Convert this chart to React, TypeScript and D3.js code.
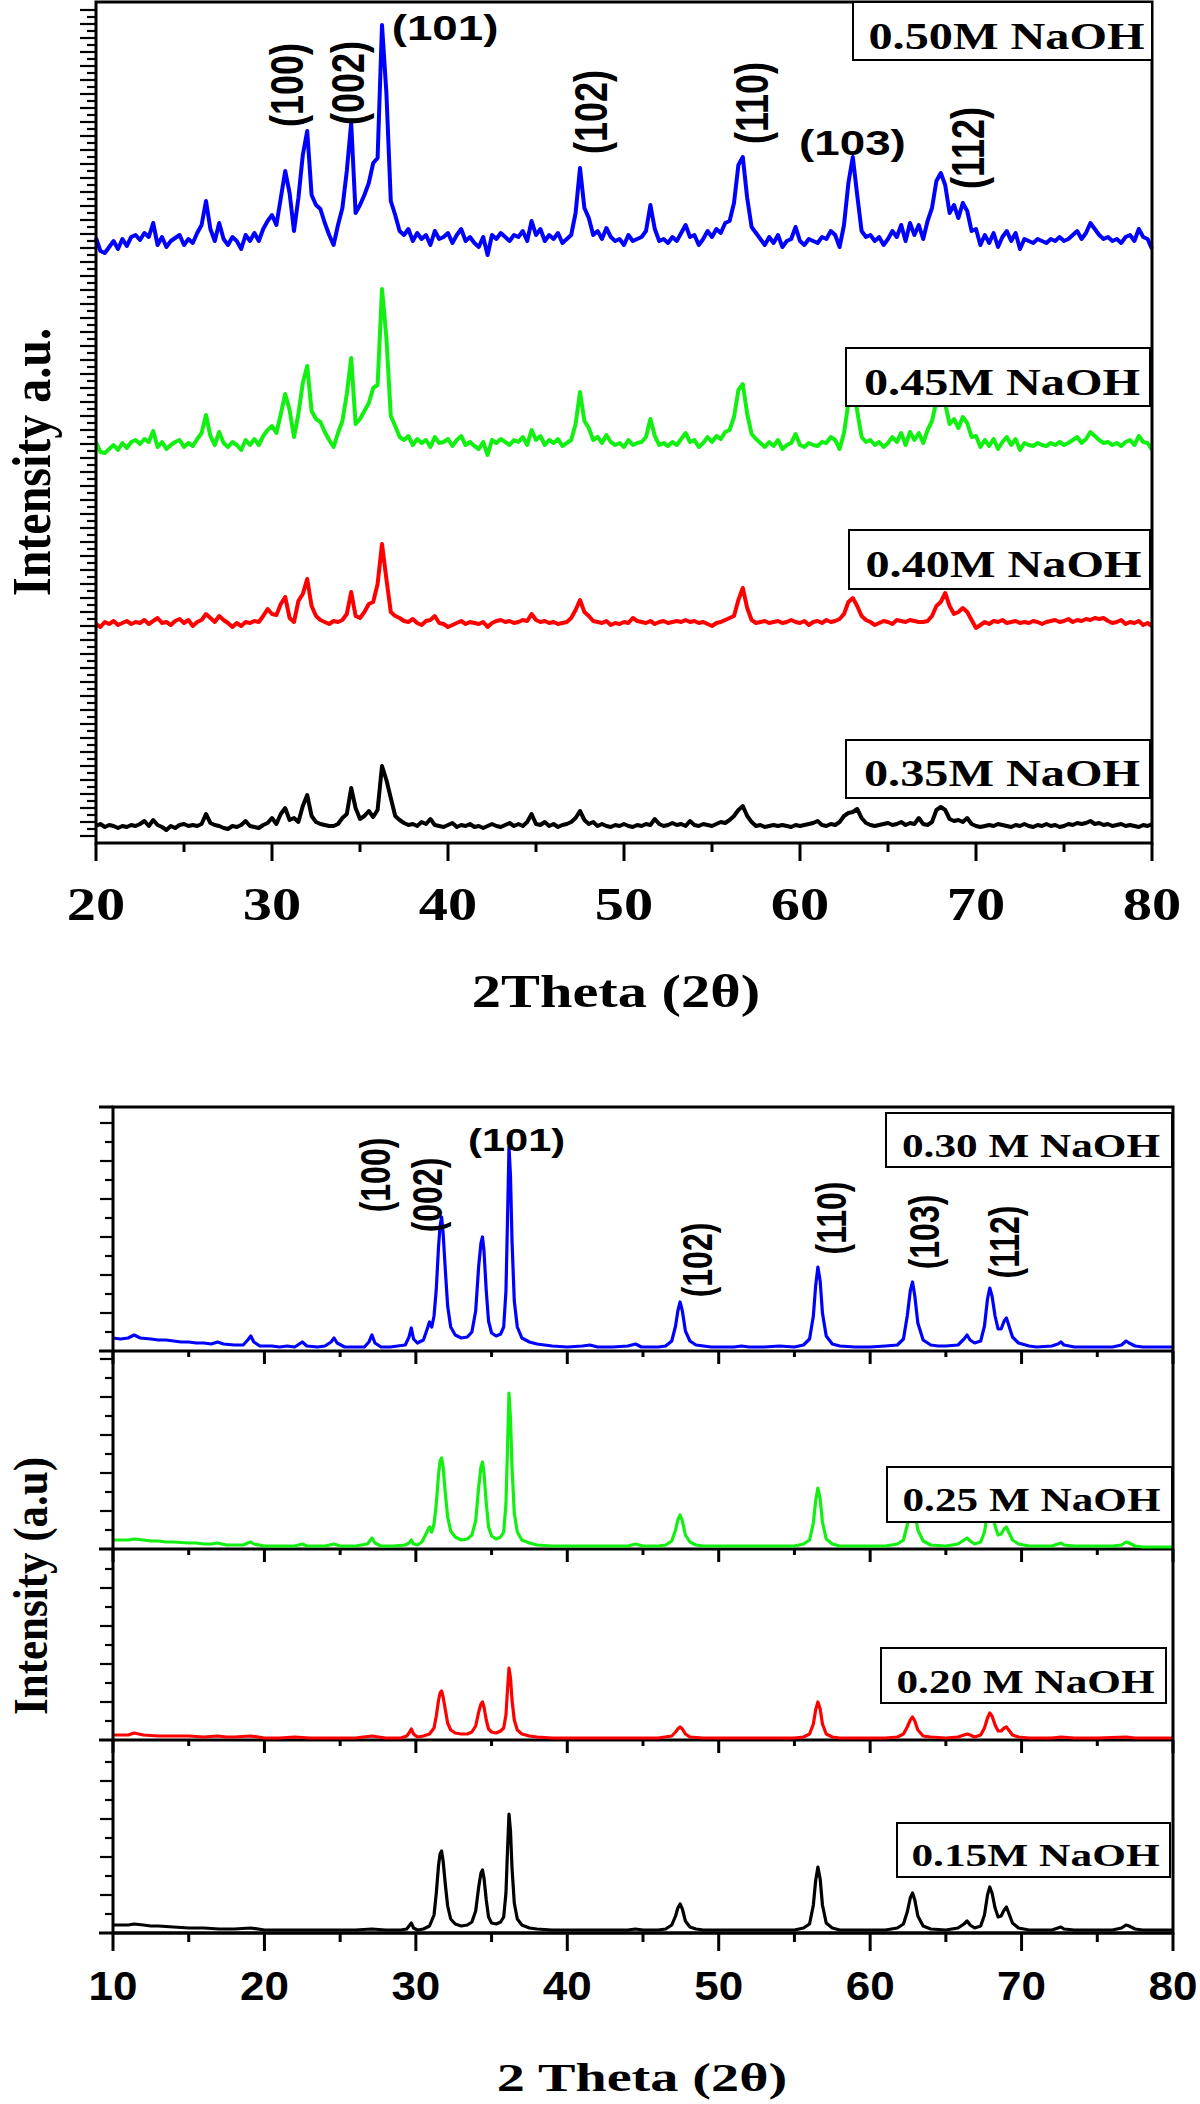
import React, { useEffect, useRef } from 'react'
import * as d3 from 'd3'

// ---------- top figure: 2theta 20..80, one reading every 0.25 deg ----------
const TOP_START = 20
const TOP_STEP = 0.25
const TOP_NAMES = ['0.50M NaOH', '0.45M NaOH', '0.40M NaOH', '0.35M NaOH']
const TOP_COLORS = ['#0000ff', '#12f012', '#ff0000', '#000000']
const TOP_OFFSETS = [600, 397, 219, 15]

const TOP_050 = [
  5, -8, -10, -4, 2, -6, 4, -3, 6, 8, 3, 10, 6, 20, -2, 6,
  -4, 2, 5, 8, -2, 4, 0, 10, 18, 42, 14, 2, 20, 4, -2, 6,
  2, -6, 8, 2, 10, 2, 14, 22, 28, 18, 45, 72, 50, 12, 45, 88,
  112, 48, 38, 34, 20, 8, -2, 18, 35, 72, 120, 30, 38, 48, 60, 80,
  85, 218, 150, 42, 28, 12, 8, 14, 2, 10, 4, 8, -2, 12, 4, 6,
  10, 0, 8, 14, 2, 6, 0, -4, 6, -12, 8, 4, 10, 6, 2, 8,
  6, 12, 2, 22, 8, 14, 2, 8, 4, 10, 0, 4, 8, 30, 75, 35,
  25, 8, 12, 4, 15, 6, 2, 4, -2, 8, 2, 4, 6, 12, 38, 14,
  2, 4, 0, 6, 2, 10, 18, 6, 8, -2, 4, 12, 6, 14, 10, 20,
  22, 40, 78, 86, 45, 16, 10, 4, -2, 6, 0, 8, -4, 2, 4, 16,
  2, -2, 4, 2, 0, 6, 4, 12, 8, -4, 18, 60, 86, 48, 12, 6,
  8, 2, 6, -2, 4, 12, 6, 18, 2, 20, 8, 18, 4, 22, 35, 62,
  70, 58, 30, 38, 25, 40, 32, 12, 14, -2, 8, 0, 10, -4, 6, 12,
  2, 10, -6, 4, 2, 0, 4, 2, 0, 4, 2, 6, 2, 4, 8, 12,
  4, 10, 20, 14, 8, 4, 6, 2, 4, 0, 6, 8, 2, 14, 6, 4,
  -6,
]
const TOP_045 = [
  4, -6, -7, -3, 1, -4, 3, -2, 4, 6, 2, 7, 4, 15, -1, 4,
  -3, 1, 4, 6, -1, 3, 0, 7, 13, 31, 10, 1, 14, 3, -1, 4,
  1, -4, 6, 1, 7, 1, 10, 16, 20, 13, 32, 52, 36, 9, 32, 63,
  80, 35, 27, 24, 14, 6, -1, 13, 25, 52, 88, 22, 27, 35, 43, 58,
  61, 157, 108, 30, 20, 9, 6, 10, 1, 7, 3, 6, -1, 9, 3, 4,
  7, 0, 6, 10, 1, 4, 0, -3, 4, -9, 6, 3, 7, 4, 1, 6,
  4, 9, 1, 16, 6, 10, 1, 6, 3, 7, 0, 3, 6, 22, 54, 25,
  18, 6, 9, 3, 11, 4, 1, 3, -1, 6, 1, 3, 4, 9, 27, 10,
  1, 3, 0, 4, 1, 7, 13, 4, 6, -1, 3, 9, 4, 10, 7, 14,
  16, 29, 56, 62, 32, 12, 7, 3, -1, 4, 0, 6, -3, 1, 3, 12,
  1, -1, 3, 1, 0, 4, 3, 9, 6, -3, 13, 43, 62, 35, 9, 4,
  6, 1, 4, -1, 3, 9, 4, 13, 1, 14, 6, 13, 3, 16, 25, 45,
  50, 42, 22, 27, 18, 29, 23, 9, 10, -1, 6, 0, 7, -3, 4, 9,
  1, 7, -4, 3, 1, 0, 3, 1, 0, 3, 1, 4, 1, 3, 6, 9,
  3, 7, 14, 10, 6, 3, 4, 1, 3, 0, 4, 6, 1, 10, 4, 3,
  -4,
]
const TOP_040 = [
  0, -3, 2, 0, 3, -1, 1, 3, 0, 2, 1, 4, 0, 3, 6, 1,
  2, -1, 3, 5, 1, 4, -2, 2, 4, 10, 6, 2, 8, 4, 1, -3,
  1, -2, 2, 1, 3, 2, 8, 15, 10, 9, 20, 27, 6, 2, 23, 30,
  45, 18, 8, 4, 2, 0, 3, 2, 4, 10, 32, 8, 6, 12, 20, 22,
  40, 80, 45, 12, 8, 6, 3, 2, 5, 1, -1, 3, 4, 8, 1, 0,
  -3, -1, 1, 3, 0, 2, 1, 0, 2, -3, 1, 3, 4, 2, 3, 1,
  2, 4, 3, 10, 4, 2, 3, 1, 2, 0, 1, 2, 6, 14, 24, 12,
  8, 3, 2, 1, 3, -1, 1, 0, 2, 1, 6, 3, 2, 1, 3, 0,
  2, 3, 1, 2, 3, 2, 4, 2, 3, 1, 2, 0, -2, 1, 2, 4,
  6, 8, 24, 36, 16, 4, 1, 2, 3, 1, 2, 3, 1, 2, 4, 2,
  1, 3, -1, 2, 3, 1, 4, 2, 3, 5, 10, 22, 26, 18, 8, 4,
  2, -1, 1, 3, 2, 0, 4, 3, 2, 4, 3, 2, 2, 3, 8, 18,
  22, 31, 18, 10, 12, 16, 12, 4, -4, -1, 2, 0, 3, 2, 4, 1,
  2, 3, 1, 2, 1, 3, 2, 0, 2, 3, 4, 2, 3, 5, 2, 4,
  3, 5, 4, 6, 5, 6, 3, 1, 2, 4, 0, 2, 1, 3, -1, 1,
  -2,
]
const TOP_035 = [
  2, 4, 1, 3, 2, 0, 2, 1, 3, 2, 4, 7, 2, 8, 3, 1,
  -2, 2, 0, 3, 4, 2, 3, 2, 4, 14, 5, 3, 2, 0, -1, 2,
  1, 3, 7, 2, 1, 0, 3, 5, 10, 4, 14, 20, 8, 10, 6, 22,
  33, 12, 6, 4, 3, 2, 2, 4, 10, 14, 40, 20, 9, 12, 17, 11,
  18, 62, 48, 30, 12, 8, 5, 3, 4, 2, 6, 4, 9, 3, 2, 1,
  3, 5, 1, 3, 2, 4, 1, 2, 0, 2, 4, 2, 1, 3, 5, 2,
  4, 2, 6, 14, 4, 3, 6, 2, 4, 1, 3, 4, 6, 10, 17, 8,
  4, 6, 2, 4, 2, 1, 3, 2, 4, 2, 1, 3, 2, 4, 3, 9,
  4, 2, 3, 5, 3, 4, 2, 7, 3, 2, 4, 3, 2, 4, 6, 5,
  8, 12, 18, 22, 12, 6, 2, 3, 1, 2, 3, 2, 3, 2, 1, 3,
  2, 3, 4, 5, 7, 3, 2, 4, 3, 6, 12, 15, 16, 19, 10, 5,
  3, 2, 3, 4, 5, 3, 4, 6, 3, 5, 4, 10, 4, 3, 6, 18,
  21, 18, 9, 7, 8, 6, 10, 4, 2, 1, 2, 3, 2, 4, 3, 2,
  1, 3, 2, 4, 2, 1, 3, 2, 4, 2, 3, 1, 2, 4, 3, 5,
  4, 5, 7, 4, 5, 3, 4, 2, 3, 4, 2, 3, 2, 1, 3, 2,
  4,
]
const TOP_SERIES = [TOP_050, TOP_045, TOP_040, TOP_035]

const TOP_HKL = ['(100)', '(002)', '(101)', '(102)', '(110)', '(103)', '(112)']
const TOP_X_TICKS = [20, 30, 40, 50, 60, 70, 80]

// ---------- bottom figure: [2theta, intensity above baseline] ----------
const BOT_NAMES = ['0.30 M NaOH', '0.25 M NaOH', '0.20 M NaOH', '0.15M NaOH']
const BOT_COLORS = ['#0000ff', '#12f012', '#ff0000', '#000000']

const BOT_030 = [
  [10, 13], [10.5, 12], [11, 13], [11.4, 16], [11.8, 13], [12.5, 12], [13, 11], [13.5, 11], [14, 10], [14.5, 9],
  [15, 9], [15.5, 8], [16, 8], [16.5, 7], [16.9, 9], [17.3, 7], [18, 6], [18.6, 6], [18.9, 11], [19.1, 15],
  [19.3, 9], [19.7, 5], [20.5, 5], [21, 4], [21.5, 5], [22, 4], [22.5, 9], [22.8, 5], [23.5, 4], [24, 5],
  [24.4, 9], [24.6, 13], [24.8, 8], [25.3, 4], [26, 4], [26.6, 4], [26.9, 9], [27.1, 16], [27.3, 8], [27.7, 4],
  [28.3, 4], [28.8, 5], [29.3, 6], [29.55, 14], [29.7, 23], [29.85, 12], [30.1, 8], [30.5, 11], [30.75, 22], [30.9, 29],
  [31.05, 24], [31.2, 35], [31.35, 62], [31.5, 105], [31.6, 125], [31.7, 134], [31.8, 118], [31.95, 80], [32.1, 45], [32.3, 24],
  [32.6, 16], [33.0, 13], [33.4, 14], [33.7, 19], [33.95, 40], [34.15, 85], [34.3, 108], [34.4, 114], [34.5, 100], [34.65, 60],
  [34.8, 30], [35.0, 18], [35.3, 15], [35.6, 17], [35.8, 24], [35.95, 60], [36.05, 130], [36.15, 204], [36.25, 175], [36.35, 110],
  [36.5, 50], [36.7, 24], [37.0, 13], [37.5, 9], [38, 7], [38.5, 6], [39, 5], [40, 4], [41, 5], [41.5, 6],
  [42, 4], [43, 4], [44, 5], [44.5, 7], [44.9, 4], [45.5, 4], [46, 4], [46.5, 5], [46.9, 10], [47.15, 25],
  [47.3, 40], [47.45, 49], [47.6, 40], [47.8, 20], [48.1, 10], [48.5, 6], [49, 5], [49.5, 4], [50, 4], [51, 4],
  [51.5, 5], [52, 4], [53, 4], [54, 5], [55, 4], [55.6, 6], [56.0, 12], [56.25, 35], [56.4, 65], [56.55, 84],
  [56.7, 70], [56.85, 38], [57.1, 15], [57.5, 7], [58, 5], [59, 4], [60, 4], [61, 5], [61.8, 6], [62.2, 12],
  [62.45, 35], [62.65, 60], [62.8, 69], [62.95, 55], [63.15, 28], [63.5, 11], [64, 6], [64.5, 5], [65, 5], [65.8, 6],
  [66.2, 12], [66.4, 16], [66.6, 11], [66.9, 8], [67.3, 10], [67.55, 25], [67.75, 52], [67.9, 63], [68.05, 55], [68.25, 35],
  [68.45, 22], [68.65, 22], [68.85, 30], [69.0, 33], [69.15, 26], [69.4, 14], [69.8, 8], [70.5, 5], [71, 4], [72, 5],
  [72.4, 7], [72.6, 9], [72.8, 6], [73.5, 4], [74, 4], [75, 4], [76, 4], [76.6, 6], [76.9, 10], [77.1, 8],
  [77.5, 5], [78, 4], [79, 4], [80, 4],
]
const BOT_025 = [
  [10, 9], [10.5, 9], [11, 9], [11.4, 10], [12, 9], [12.5, 8], [13, 8], [13.5, 7], [14, 7], [15, 6],
  [15.5, 6], [16, 5], [16.5, 5], [16.9, 6], [17.5, 4], [18, 4], [18.6, 4], [18.9, 6], [19.1, 7], [19.3, 5],
  [20, 3], [21, 3], [22, 3], [22.5, 5], [22.8, 3], [24, 3], [24.6, 5], [25, 3], [26, 3], [26.8, 5],
  [27.1, 11], [27.3, 6], [27.7, 3], [28.5, 3], [29.3, 4], [29.55, 6], [29.7, 9], [29.85, 5], [30.1, 4], [30.4, 7],
  [30.7, 16], [30.9, 22], [31.05, 17], [31.2, 25], [31.35, 45], [31.5, 75], [31.6, 88], [31.7, 91], [31.8, 82], [31.95, 55],
  [32.1, 32], [32.3, 18], [32.6, 12], [33.0, 9], [33.4, 10], [33.7, 14], [33.95, 28], [34.15, 62], [34.3, 82], [34.4, 87],
  [34.5, 76], [34.65, 46], [34.8, 22], [35.0, 13], [35.3, 10], [35.6, 12], [35.8, 17], [35.95, 45], [36.05, 100], [36.15, 156],
  [36.25, 130], [36.35, 82], [36.5, 36], [36.7, 17], [37.0, 9], [37.5, 6], [38, 4], [39, 3], [40, 3], [41, 3],
  [42, 3], [43, 3], [44, 3], [44.5, 5], [45, 3], [46, 3], [46.5, 4], [46.9, 8], [47.15, 19], [47.3, 29],
  [47.45, 34], [47.6, 28], [47.8, 14], [48.1, 7], [48.5, 4], [49, 3], [50, 3], [51, 3], [52, 3], [53, 3],
  [54, 3], [55, 3], [55.6, 5], [56.0, 9], [56.25, 26], [56.4, 48], [56.55, 61], [56.7, 50], [56.85, 27], [57.1, 10],
  [57.5, 5], [58, 3], [59, 3], [60, 3], [61, 3], [61.8, 5], [62.2, 9], [62.45, 24], [62.65, 40], [62.8, 46],
  [62.95, 37], [63.15, 19], [63.5, 8], [64, 4], [65, 3], [65.8, 5], [66.2, 9], [66.4, 11], [66.6, 8], [66.9, 5],
  [67.3, 7], [67.55, 17], [67.75, 36], [67.9, 43], [68.05, 37], [68.25, 23], [68.45, 14], [68.65, 15], [68.85, 20], [69.0, 22],
  [69.15, 17], [69.4, 9], [69.8, 5], [70.5, 3], [71, 3], [72, 3], [72.4, 5], [72.6, 6], [72.8, 4], [73.5, 3],
  [75, 3], [76, 3], [76.6, 4], [76.9, 7], [77.1, 6], [77.5, 3], [78, 2], [79, 2], [80, 2],
]
const BOT_020 = [
  [10, 5], [10.5, 5], [11, 5], [11.4, 7], [12, 5], [13, 4], [14, 4], [15, 4], [16, 3], [16.9, 4],
  [17.5, 3], [18, 3], [19.1, 4], [20, 2], [21, 2], [22, 3], [23, 2], [24, 2], [25, 2], [26, 2],
  [27.1, 4], [28, 2], [29, 2], [29.4, 4], [29.55, 7], [29.7, 11], [29.85, 6], [30.1, 3], [30.5, 4], [30.9, 6],
  [31.2, 12], [31.35, 24], [31.5, 40], [31.6, 47], [31.7, 49], [31.8, 43], [31.95, 30], [32.1, 17], [32.3, 10], [32.6, 7],
  [33.0, 6], [33.4, 6], [33.7, 8], [33.95, 14], [34.15, 28], [34.3, 36], [34.4, 38], [34.5, 33], [34.65, 20], [34.8, 11],
  [35.0, 8], [35.3, 7], [35.6, 9], [35.8, 12], [35.95, 25], [36.05, 50], [36.15, 72], [36.25, 62], [36.35, 40], [36.5, 20],
  [36.7, 10], [37.0, 6], [37.5, 4], [38, 3], [39, 2], [40, 2], [41, 2], [42, 2], [43, 2], [44, 2],
  [45, 2], [46, 2], [46.9, 4], [47.15, 8], [47.3, 11], [47.45, 13], [47.6, 11], [47.8, 6], [48.1, 3], [49, 2],
  [50, 2], [51, 2], [52, 2], [53, 2], [54, 2], [55, 2], [55.6, 3], [56.0, 6], [56.25, 16], [56.4, 30],
  [56.55, 38], [56.7, 31], [56.85, 16], [57.1, 6], [57.5, 3], [58, 2], [59, 2], [60, 2], [61, 2], [61.8, 3],
  [62.2, 6], [62.45, 13], [62.65, 20], [62.8, 23], [62.95, 19], [63.15, 10], [63.5, 4], [64, 3], [65, 2], [65.8, 3],
  [66.2, 5], [66.4, 6], [66.6, 5], [66.9, 3], [67.3, 5], [67.55, 12], [67.75, 22], [67.9, 27], [68.05, 24], [68.25, 15],
  [68.45, 9], [68.65, 9], [68.85, 12], [69.0, 13], [69.15, 10], [69.4, 5], [69.8, 3], [70.5, 2], [72, 2], [72.6, 3],
  [73.5, 2], [75, 2], [76.9, 3], [77.5, 2], [80, 2],
]
const BOT_015 = [
  [10, 8], [10.5, 8], [11, 8], [11.4, 9], [12, 8], [12.5, 7], [13, 7], [14, 6], [15, 5], [16, 5],
  [17, 4], [18, 4], [19.1, 5], [20, 3], [21, 3], [22, 3], [23, 3], [24, 3], [25, 3], [26, 3],
  [27.1, 4], [28, 3], [29, 3], [29.4, 4], [29.55, 7], [29.7, 10], [29.85, 5], [30.1, 3], [30.5, 4], [30.9, 7],
  [31.2, 18], [31.35, 40], [31.5, 68], [31.6, 79], [31.7, 82], [31.8, 72], [31.95, 48], [32.1, 27], [32.3, 14], [32.6, 9],
  [33.0, 7], [33.4, 8], [33.7, 11], [33.95, 22], [34.15, 46], [34.3, 60], [34.4, 63], [34.5, 55], [34.65, 33], [34.8, 16],
  [35.0, 10], [35.3, 9], [35.6, 11], [35.8, 16], [35.95, 40], [36.05, 82], [36.15, 119], [36.25, 102], [36.35, 65], [36.5, 30],
  [36.7, 14], [37.0, 8], [37.5, 5], [38, 4], [39, 3], [40, 3], [41, 3], [42, 3], [43, 3], [44, 3],
  [44.5, 4], [45, 3], [46, 3], [46.5, 4], [46.9, 8], [47.15, 17], [47.3, 25], [47.45, 29], [47.6, 24], [47.8, 12],
  [48.1, 6], [48.5, 4], [49, 3], [50, 3], [51, 3], [52, 3], [53, 3], [54, 3], [55, 3], [55.6, 5],
  [56.0, 9], [56.25, 28], [56.4, 52], [56.55, 66], [56.7, 54], [56.85, 28], [57.1, 10], [57.5, 5], [58, 3], [59, 3],
  [60, 3], [61, 3], [61.8, 5], [62.2, 9], [62.45, 21], [62.65, 35], [62.8, 40], [62.95, 33], [63.15, 17], [63.5, 7],
  [64, 4], [65, 3], [65.8, 5], [66.2, 9], [66.4, 12], [66.6, 8], [66.9, 5], [67.3, 7], [67.55, 18], [67.75, 38],
  [67.9, 46], [68.05, 40], [68.25, 25], [68.45, 16], [68.65, 17], [68.85, 23], [69.0, 26], [69.15, 20], [69.4, 10], [69.8, 5],
  [70.5, 3], [71, 3], [72, 3], [72.4, 5], [72.6, 6], [72.8, 4], [73.5, 3], [75, 3], [76, 3], [76.6, 5],
  [76.9, 8], [77.1, 7], [77.5, 4], [78, 3], [79, 3], [80, 3],
]
const BOT_SERIES = [BOT_030, BOT_025, BOT_020, BOT_015]

const BOT_HKL = ['(100)', '(002)', '(101)', '(102)', '(110)', '(103)', '(112)']
const BOT_X_TICKS = [10, 20, 30, 40, 50, 60, 70, 80]

const SERIF = "'Liberation Serif', 'Times New Roman', serif"
const SANS = "'Liberation Sans', Arial, sans-serif"

// layout of the two frames (pixels)
const TOP = { left: 96, right: 1152, top: 2, bottom: 843 }
const BOT = { left: 113, right: 1173, top: 1107, bottom: 1933 }
const BOT_LAYERS = [[1107, 1351], [1351, 1549], [1549, 1740], [1740, 1933]]

// legend boxes [x0, y0, x1, y1, text baseline]
const TOP_BOXES = [[853, 2, 1152, 60, 49], [846, 348, 1150, 406, 395], [849, 530, 1150, 589, 577], [846, 740, 1150, 798, 786]]
const BOT_BOXES = [[886, 1113, 1172, 1167, 1157], [887, 1467, 1172, 1522, 1511], [881, 1648, 1166, 1703, 1693], [897, 1823, 1170, 1877, 1866]]

// hkl label placement: [2theta, y, rotated]
const TOP_HKL_POS = [[31.0, 85, 1], [34.45, 83, 1], [36.8, 40, 0], [48.25, 112, 1], [57.4, 103, 1], [59.95, 155, 0], [69.65, 148, 1]]
const BOT_HKL_POS = [[27.5, 1175, 1], [30.9, 1195, 1], [33.45, 1151, 0], [48.7, 1260, 1], [57.6, 1218, 1], [63.7, 1232, 1], [69.0, 1242, 1]]

function addText(g, x, y, str, size, family, sx, anchor = 'middle', rotate = false) {
  g.append('text')
    .attr('transform', `translate(${x},${y}) scale(${sx},1)` + (rotate ? ' rotate(-90)' : ''))
    .attr('text-anchor', anchor)
    .attr('font-family', family)
    .attr('font-weight', 'bold')
    .attr('font-size', size)
    .attr('fill', '#000')
    .text(str)
}

function line(g, x1, y1, x2, y2, w) {
  g.append('line')
    .attr('x1', x1).attr('y1', y1).attr('x2', x2).attr('y2', y2)
    .attr('stroke', '#000').attr('stroke-width', w)
}

export default function App() {
  const ref = useRef(null)

  useEffect(() => {
    const svg = d3.select(ref.current)
    svg.selectAll('*').remove()
    const g = svg.append('g')

    // ================= top figure =================
    const xTop = d3.scaleLinear().domain([20, 80]).range([TOP.left, TOP.right])
    const yTop = d3.scaleLinear().domain([0, 840]).range([TOP.bottom, TOP.top + 1])

    // y ticks (dense comb)
    d3.range(7, 840, 7).forEach((v, i) => {
      const y = yTop(v)
      line(g, TOP.left - (i % 2 === 0 ? 16 : 9), y, TOP.left, y, 2.2)
    })
    // x ticks
    d3.range(20, 81, 5).forEach(v => {
      const major = v % 10 === 0
      line(g, xTop(v), TOP.bottom, xTop(v), TOP.bottom + (major ? 18 : 9), 3)
    })

    TOP_SERIES.forEach((vals, s) => {
      const pts = vals.map((v, i) => [TOP_START + i * TOP_STEP, v])
      const gen = d3.line()
        .x(d => xTop(d[0]))
        .y(d => yTop(d[1] + TOP_OFFSETS[s]))
      g.append('path')
        .datum(pts)
        .attr('d', gen)
        .attr('fill', 'none')
        .attr('stroke', TOP_COLORS[s])
        .attr('stroke-width', 4)
        .attr('stroke-linejoin', 'round')
    })

    // frame
    g.append('rect')
      .attr('x', TOP.left).attr('y', TOP.top)
      .attr('width', TOP.right - TOP.left).attr('height', TOP.bottom - TOP.top)
      .attr('fill', 'none').attr('stroke', '#000').attr('stroke-width', 3)

    TOP_BOXES.forEach((b, i) => {
      g.append('rect')
        .attr('x', b[0]).attr('y', b[1]).attr('width', b[2] - b[0]).attr('height', b[3] - b[1])
        .attr('fill', '#fff').attr('stroke', '#000').attr('stroke-width', 2)
      addText(g, (b[0] + b[2]) / 2 + 4, b[4], TOP_NAMES[i], 38, SERIF, 1.27)
    })

    TOP_HKL.forEach((t, i) => {
      const [tt, y, rot] = TOP_HKL_POS[i]
      if (rot) addText(g, xTop(tt) + 0.3 * 36 * 1.27, y, t, 36, SANS, 1.27, 'middle', true)
      else addText(g, xTop(tt), y, t, 36, SANS, 1.27, 'start')
    })

    TOP_X_TICKS.forEach(v => addText(g, xTop(v), 920, String(v), 46, SERIF, 1.27))
    addText(g, 616, 1007, '2Theta (2\u03b8)', 46, SERIF, 1.27)
    addText(g, 50, 462, 'Intensity a.u.', 48, SERIF, 1.15, 'middle', true)

    // ================= bottom figure =================
    const xBot = d3.scaleLinear().domain([10, 80]).range([BOT.left, BOT.right])

    BOT_LAYERS.forEach(([t, b], k) => {
      const h = b - t
      const yL = d3.scaleLinear().domain([0, h]).range([b, t])
      // y ticks
      d3.range(19, h - 4, 19).forEach((v, i) => {
        line(g, BOT.left - (i % 2 === 0 ? 8 : 13), yL(v), BOT.left, yL(v), 2.2)
      })
      // x ticks hanging from the layer's baseline
      d3.range(10, 81, 5).forEach(v => {
        const major = v % 10 === 0
        const len = k === 3 ? (major ? 18 : 9) : (major ? 13 : 6)
        line(g, xBot(v), b, xBot(v), b + len, 3)
      })
      line(g, BOT.left - 14, b, BOT.right, b, 3)

      const gen = d3.line()
        .x(d => xBot(d[0]))
        .y(d => yL(d[1]))
      g.append('path')
        .datum(BOT_SERIES[k])
        .attr('d', gen)
        .attr('fill', 'none')
        .attr('stroke', BOT_COLORS[k])
        .attr('stroke-width', 3.2)
        .attr('stroke-linejoin', 'round')
    })

    g.append('rect')
      .attr('x', BOT.left).attr('y', BOT.top)
      .attr('width', BOT.right - BOT.left).attr('height', BOT.bottom - BOT.top)
      .attr('fill', 'none').attr('stroke', '#000').attr('stroke-width', 3)
    line(g, BOT.left - 14, BOT.top, BOT.left, BOT.top, 3)

    BOT_BOXES.forEach((b, i) => {
      g.append('rect')
        .attr('x', b[0]).attr('y', b[1]).attr('width', b[2] - b[0]).attr('height', b[3] - b[1])
        .attr('fill', '#fff').attr('stroke', '#000').attr('stroke-width', 2)
      addText(g, (b[0] + b[2]) / 2 + 2, b[4], BOT_NAMES[i], i === 3 ? 31 : 33, SERIF, i === 3 ? 1.4 : 1.31)
    })

    BOT_HKL.forEach((t, i) => {
      const [tt, y, rot] = BOT_HKL_POS[i]
      if (rot) addText(g, xBot(tt) + 0.3 * 32 * 1.3, y, t, 32, SANS, 1.3, 'middle', true)
      else addText(g, xBot(tt), y, t, 32, SANS, 1.3, 'start')
    })

    BOT_X_TICKS.forEach(v => addText(g, xBot(v), 2000, String(v), 40, SANS, 1.1))
    addText(g, 642, 2091, '2 Theta (2\u03b8)', 41, SERIF, 1.37)
    addText(g, 47, 1586, 'Intensity (a.u)', 43, SERIF, 1.15, 'middle', true)
  }, [])

  return (
    <svg
      ref={ref}
      width={1200}
      height={2104}
      style={{ position: 'absolute', left: 0, top: 0, background: '#fff' }}
    />
  )
}
